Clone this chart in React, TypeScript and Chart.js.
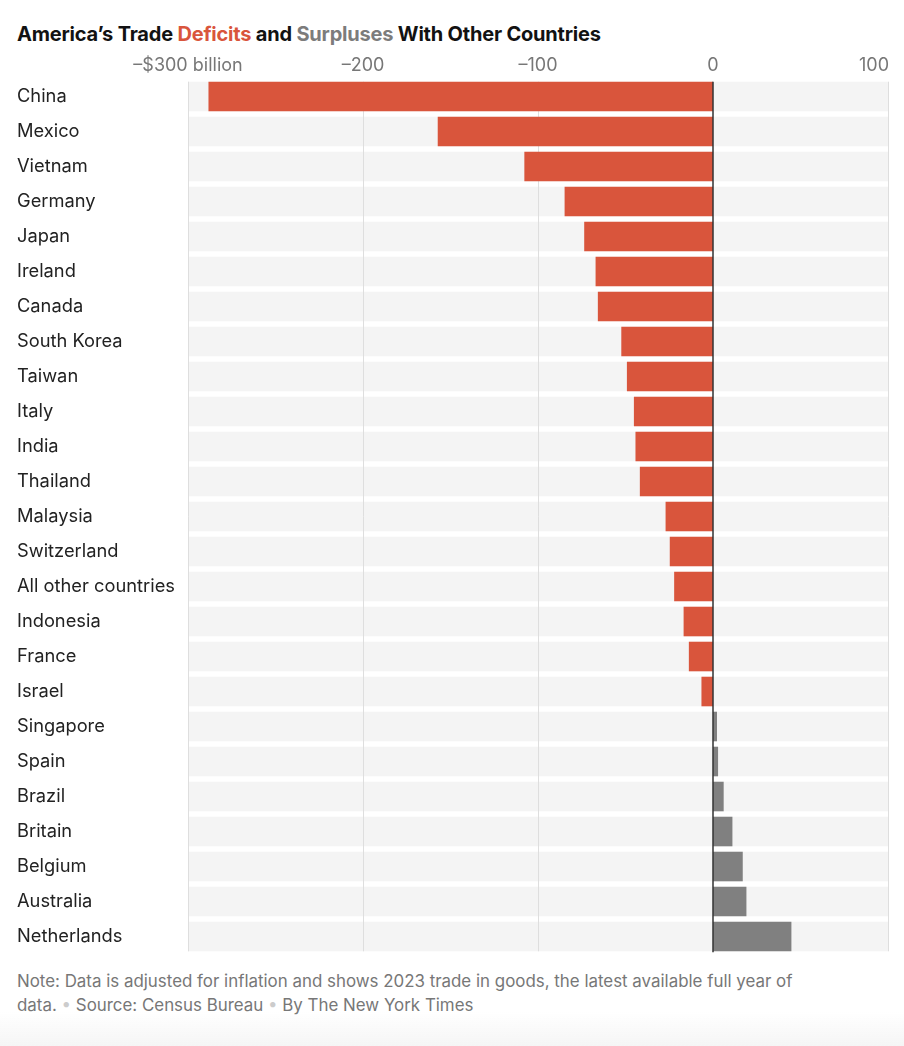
import { useEffect, useRef } from "react";
import { Chart, registerables } from "chart.js";

Chart.register(...registerables);

// Goods trade balance by partner, 2023, billions of dollars
const countries = [
  "China",
  "Mexico",
  "Vietnam",
  "Germany",
  "Japan",
  "Ireland",
  "Canada",
  "South Korea",
  "Taiwan",
  "Italy",
  "India",
  "Thailand",
  "Malaysia",
  "Switzerland",
  "All other countries",
  "Indonesia",
  "France",
  "Israel",
  "Singapore",
  "Spain",
  "Brazil",
  "Britain",
  "Belgium",
  "Australia",
  "Netherlands",
];

const balance = [
  -288.3, -157.3, -107.8, -84.8, -73.6, -67.1, -65.8, -52.4, -49.2, -45.2,
  -44.3, -41.8, -27.1, -24.7, -22.2, -16.8, -13.8, -6.6, 2.3, 2.9, 6.1, 11.1,
  17.0, 19.1, 44.8,
];

const xTicks = [-300, -200, -100, 0, 100];
const tickLabels = ["–$300 billion", "–200", "–100", "0", "100"];

const RED = "#d9553c";
const GRAY = "#808080";
const FONT = "Inter, 'Open Sans', 'Liberation Sans', sans-serif";

// Row bands, grid lines, zero line and top tick labels
const decor = {
  id: "decor",
  beforeDatasetsDraw(chart: any) {
    const { ctx } = chart;
    const x = chart.scales.x;
    const bars = chart.getDatasetMeta(0).data;
    if (!bars.length) return;
    ctx.save();
    ctx.fillStyle = "#f4f4f4";
    bars.forEach((bar: any) => {
      const { y, height } = bar.getProps(["y", "height"], true);
      ctx.fillRect(x.left, y - height / 2, x.right - x.left, height);
    });
    const first = bars[0].getProps(["y", "height"], true);
    const last = bars[bars.length - 1].getProps(["y", "height"], true);
    const top = first.y - first.height / 2;
    const bottom = last.y + last.height / 2;
    ctx.strokeStyle = "#dedede";
    ctx.lineWidth = 1;
    xTicks.forEach((v) => {
      if (v === 0) return;
      const px = Math.round(x.getPixelForValue(v)) + 0.5;
      ctx.beginPath();
      ctx.moveTo(px, top);
      ctx.lineTo(px, bottom);
      ctx.stroke();
    });
    ctx.restore();
  },
  afterDatasetsDraw(chart: any) {
    const { ctx } = chart;
    const x = chart.scales.x;
    const bars = chart.getDatasetMeta(0).data;
    if (!bars.length) return;
    const first = bars[0].getProps(["y", "height"], true);
    const last = bars[bars.length - 1].getProps(["y", "height"], true);
    const px = x.getPixelForValue(0);
    ctx.save();
    ctx.strokeStyle = "#333333";
    ctx.lineWidth = 1.5;
    ctx.beginPath();
    ctx.moveTo(px, first.y - first.height / 2);
    ctx.lineTo(px, last.y + last.height / 2 + 1);
    ctx.stroke();

    ctx.fillStyle = "#777777";
    ctx.font = `18px ${FONT}`;
    ctx.textBaseline = "middle";
    xTicks.forEach((v, i) => {
      const isLast = i === xTicks.length - 1;
      const tx = x.getPixelForValue(v);
      ctx.textAlign = isLast ? "right" : "center";
      ctx.fillText(tickLabels[i], isLast ? tx + 1 : tx, chart.chartArea.top - 13);
    });
    ctx.restore();
  },
};

function TradeChart() {
  const ref = useRef<HTMLCanvasElement | null>(null);

  useEffect(() => {
    if (!ref.current) return;
    const chart = new Chart(ref.current, {
      type: "bar",
      data: {
        labels: countries,
        datasets: [
          {
            data: balance,
            backgroundColor: balance.map((v) => (v < 0 ? RED : GRAY)),
            borderWidth: 0,
            barPercentage: 0.845,
            categoryPercentage: 1,
          },
        ],
      },
      options: {
        indexAxis: "y",
        responsive: false,
        animation: false,
        layout: { padding: { left: 9, top: 29, right: 8, bottom: 4 } },
        plugins: {
          legend: { display: false },
          tooltip: { enabled: false },
        },
        scales: {
          x: {
            display: false,
            min: -300,
            max: 100,
          },
          y: {
            grid: { display: false },
            border: { display: false },
            afterFit: (scale: any) => {
              scale.width = 171;
            },
            ticks: {
              crossAlign: "far",
              padding: 0,
              color: "#222222",
              font: { family: FONT, size: 18.3 },
            },
          },
        },
      },
      plugins: [decor],
    });
    return () => chart.destroy();
  }, []);

  return <canvas ref={ref} width={888} height={915} style={{ display: "block" }} />;
}

const dot = <span style={{ color: "#cccccc" }}>•</span>;

export default function App() {
  return (
    <div style={{ position: "relative", width: 888, height: 1030, fontFamily: FONT }}>
      <div
        style={{
          position: "absolute",
          top: 14,
          left: 9,
          fontSize: 20,
          lineHeight: "24px",
          fontWeight: 700,
          letterSpacing: "-0.2px",
          color: "#121212",
          whiteSpace: "nowrap",
        }}
      >
        America’s Trade <span style={{ color: RED }}>Deficits</span> and{" "}
        <span style={{ color: "#7c7c7c" }}>Surpluses</span> With Other Countries
      </div>
      <div style={{ position: "absolute", top: 42, left: 0 }}>
        <TradeChart />
      </div>
      <div
        style={{
          position: "absolute",
          top: 961,
          left: 9,
          fontSize: 16.9,
          lineHeight: "24px",
          color: "#777777",
          whiteSpace: "nowrap",
        }}
      >
        <div>Note: Data is adjusted for inflation and shows 2023 trade in goods, the latest available full year of</div>
        <div>
          data. {dot} Source: Census Bureau {dot} By The New York Times
        </div>
      </div>
      <div
        style={{
          position: "fixed",
          left: 0,
          right: 0,
          bottom: 0,
          height: 34,
          background: "linear-gradient(to bottom, rgba(245,245,245,0), rgba(245,245,245,1))",
          pointerEvents: "none",
        }}
      />
    </div>
  );
}
